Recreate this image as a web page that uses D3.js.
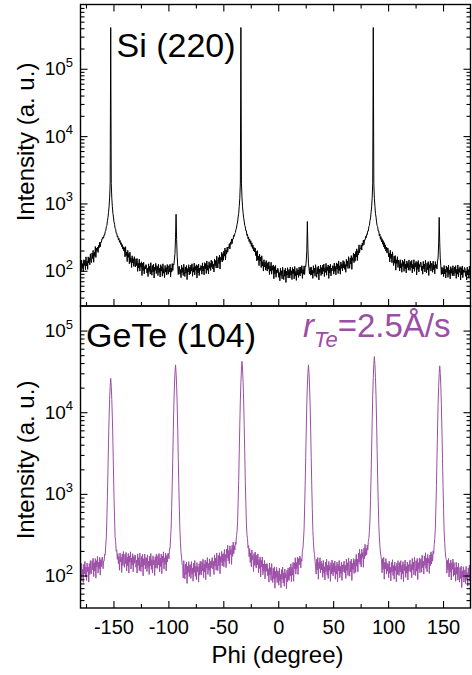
<!DOCTYPE html>
<html>
<head>
<meta charset="utf-8">
<script src="https://cdn.jsdelivr.net/npm/d3@7"></script>
<style>
  html, body { margin: 0; padding: 0; background: #fff; }
  svg { display: block; font-family: "Liberation Sans", Arial, Helvetica, sans-serif; }
</style>
</head>
<body>
<svg id="chart" width="472" height="675"></svg>
<script>
// Phi scans sampled every 0.5 degree from -180 to 175 degrees
const phiStart = -180;
const phiStep = 0.5;

// Si (220) phi scan intensity (a. u.)
const siIntensity = [
  130,98,144,109,128,96,146,120,143,104,161,118,140,105,161,131,156,123,179,141,
  133,184,152,201,134,187,164,229,158,216,198,225,187,239,220,266,227,267,265,300,
  296,318,305,343,338,386,392,452,470,552,615,728,895,1210,2020,410000,1990,1195,905,712,
  628,531,490,428,412,362,361,318,329,288,304,265,283,247,262,229,245,210,227,196,
  221,161,228,167,189,137,201,158,181,127,189,134,155,112,167,131,151,116,162,125,
  114,151,120,152,98,131,110,149,99,130,113,136,85,129,101,134,90,116,106,124,
  122,93,109,82,127,98,117,89,132,103,86,120,96,126,78,113,101,129,91,119,
  114,85,125,94,109,81,123,99,116,83,127,92,107,79,120,96,112,87,124,97,
  89,119,97,125,81,110,96,128,101,125,122,150,180,310,690,290,165,118,88,116,
  116,89,104,79,121,94,111,85,125,98,82,114,92,120,74,108,96,123,87,113,
  90,122,99,127,83,112,96,130,87,116,102,123,78,119,93,126,85,110,101,120,
  118,89,131,99,116,87,132,107,128,91,140,102,121,90,136,109,130,101,144,113,
  138,106,125,96,150,118,142,110,165,131,110,157,128,171,106,158,143,188,135,180,
  143,197,165,218,146,203,178,225,189,226,221,253,211,266,246,297,253,297,296,337,
  325,358,368,412,432,492,530,630,712,905,1195,2010,410000,2000,1210,890,728,612,548,472,
  447,392,393,335,348,298,318,270,296,253,279,230,260,215,241,197,222,190,218,168,
  194,140,199,145,165,119,177,139,160,112,167,118,136,99,146,115,133,102,142,109,
  99,132,106,136,88,118,99,134,89,117,102,122,76,115,90,120,80,103,93,109,
  105,80,94,71,109,85,100,76,113,88,74,103,83,109,67,98,86,111,78,102,
  105,78,114,86,100,74,112,90,106,76,116,84,98,72,109,87,103,80,113,88,
  84,114,92,119,77,105,89,118,88,118,115,140,200,540,215,130,108,90,112,86,
  114,87,102,77,119,92,109,83,123,96,80,112,90,118,73,106,94,121,85,111,
  89,121,98,126,82,111,95,129,86,114,101,122,77,118,93,125,84,109,100,119,
  118,89,130,98,116,87,131,106,127,91,140,101,119,89,135,109,127,100,142,111,
  137,105,124,95,148,116,140,108,162,129,109,155,126,168,105,156,141,184,132,176,
  139,193,160,212,142,198,173,243,184,217,212,243,203,258,236,286,244,287,284,323,
  308,348,342,392,390,458,470,556,610,735,890,1215,2000,410000,2010,1190,910,708,630,532,
  468,452,388,392,331,352,294,322,271,299,248,281,228,262,212,243,196,224,183,217,
  217,161,184,135,202,153,177,132,191,146,120,165,130,168,102,146,128,162,112,144,
  134,100,146,110,128,95,144,116,137,98,149,107,126,93,140,112,132,102,145,113,
  101,137,111,143,93,126,107,146,98,130,114,138,87,133,105,142,96,124,113,135,
  132,101,118,89,138,107,126,96,143,111,93,130,104,137,85,123,109,140,99,129,
  128,95,139,104,122,90,137,110,124,106,140,155,250,620,260,150,118,88,113,90,
  110,82,120,90,105,78,118,95,112,80,122,88,103,76,115,92,108,84,119,93,
  84,114,92,119,77,105,89,122,81,108,95,115,73,111,87,118,79,103,94,112,
  108,83,97,73,113,87,104,79,117,91,76
];

// GeTe (104) phi scan intensity (a. u.)
const geteIntensity = [
  128,87,140,99,119,82,137,105,149,96,127,87,142,111,127,83,140,103,152,109,
  105,152,118,163,97,144,114,161,93,152,128,172,107,146,121,167,101,156,129,165,
  168,121,150,150,182,178,236,292,505,930,1950,4300,8600,14300,20800,26000,20800,14300,8600,4300,
  1960,920,510,300,262,198,206,158,186,140,171,116,189,147,167,109,183,133,197,140,
  126,182,140,192,114,168,132,186,107,174,146,195,120,164,135,185,111,171,141,179,
  175,126,155,107,184,133,165,115,188,139,112,171,127,181,99,161,134,183,120,166,
  164,112,179,126,150,103,172,132,186,119,157,107,174,136,154,100,169,123,182,129,
  122,176,135,186,111,164,129,183,105,172,145,195,120,165,137,188,114,176,146,186,
  186,160,214,212,290,378,680,1290,2800,6250,12600,21000,30500,38000,30500,21000,12600,6230,2780,1260,
  650,350,255,190,168,138,133,93,152,112,91,138,103,146,80,130,109,148,97,135,
  136,92,148,104,124,85,142,109,153,98,130,89,144,112,127,83,139,101,150,106,
  102,148,114,158,94,139,110,155,89,147,123,166,103,140,116,160,97,149,124,157,
  166,120,149,103,179,131,164,116,189,141,115,176,132,190,105,171,145,197,131,184,
  186,128,208,149,180,125,211,164,234,151,203,140,231,181,209,137,234,172,257,185,
  232,205,258,240,310,345,462,800,1470,3150,6930,14100,23300,33800,42000,33800,23300,14100,6920,3140,
  1450,780,440,320,285,218,232,170,214,145,189,128,205,157,175,112,186,133,194,135,
  124,177,135,184,108,157,122,169,96,154,127,168,102,138,113,153,91,138,112,140,
  139,99,121,83,142,102,125,87,140,103,82,123,91,128,70,112,93,126,82,114,
  113,76,123,86,103,71,118,90,127,81,108,74,120,93,106,69,116,84,124,88,
  87,127,99,139,84,126,101,145,85,142,121,165,104,144,121,168,103,161,135,173,
  168,124,160,150,200,216,273,368,670,1280,2800,6240,12640,21040,30540,38000,30530,21030,12630,6230,
  2790,1270,660,358,262,205,180,150,128,104,158,117,166,90,146,122,165,108,150,117,
  140,95,153,107,128,88,146,112,159,101,134,92,149,116,132,85,144,105,155,110,
  99,143,110,151,90,132,104,146,84,137,114,153,94,129,106,145,87,135,111,140,
  150,108,133,92,159,115,143,100,164,121,98,149,111,159,87,141,118,161,106,147,
  158,109,181,130,158,111,188,146,211,137,184,127,210,166,191,126,216,161,241,173,
  215,180,235,205,262,284,356,478,860,1630,3550,7870,16030,26590,38590,48000,38550,26550,15990,7830,
  3500,1580,810,425,305,232,194,172,156,108,161,119,167,90,145,120,161,104,144,113,
  138,94,150,106,126,86,144,110,156,100,132,90,146,114,130,84,142,103,152,108,
  100,144,111,152,90,133,105,148,84,138,115,155,95,130,107,146,88,136,112,142,
  154,110,136,94,162,117,146,102,167,123,100,152,113,162,89,144,121,164,108,151,
  161,110,177,125,150,104,173,133,190,122,162,111,181,142,162,106,179,132,195,139,
  185,150,200,185,240,285,376,672,1265,2745,6070,12360,20500,29750,37000,29730,20480,12340,6050,2720,
  1240,648,350,255,198,166,158,107,153,118,162,96,141,110,155,88,143,119,159,98,
  144,102,125,85,145,104,127,88,142,104,83,125,92,130,71,114,95,128,83,116,
  118,80,129,91,108,74,124,95,134,85,113
];

// Axis ticks
const phiMajorTicks = [-150, -100, -50, 0, 50, 100, 150];
const phiMinorTicks = [-175, -125, -75, -25, 25, 75, 125];
const decadeExponents = [2, 3, 4, 5];

const purple = "#9b4ea6";
const svg = d3.select("#chart");

const frameLeft = 80.5, frameRight = 470.5;
const x = d3.scaleLinear().domain([-180, 175]).range([frameLeft, frameRight]);

const panels = [
  { id: "si", values: siIntensity, domain: [30, 9e5], top: 4.5, bottom: 306, color: "#000",
    label: "Si (220)", labelX: 116.5, labelY: 57, topTicks: true, xLabels: false, yLabelY: 142 },
  { id: "gete", values: geteIntensity, domain: [40, 2e5], top: 306, bottom: 608, color: purple,
    label: "GeTe (104)", labelX: 86, labelY: 347, topTicks: false, xLabels: true, yLabelY: 460 }
];

function minorValues(domain) {
  const out = [];
  for (let k = 0; k <= 6; k++) {
    for (let m = 2; m <= 9; m++) {
      const v = m * Math.pow(10, k);
      if (v > domain[0] && v < domain[1]) out.push(v);
    }
  }
  return out;
}

function styleAxis(g) {
  g.select(".domain").remove();
  g.selectAll(".tick line").attr("stroke", "#000").attr("stroke-width", 1.1);
}

panels.forEach(p => {
  const y = d3.scaleLog().domain(p.domain).range([p.bottom, p.top]);
  const g = svg.append("g").attr("class", "panel-" + p.id);

  g.append("clipPath").attr("id", "clip-" + p.id)
    .append("rect")
    .attr("x", frameLeft).attr("y", p.top)
    .attr("width", frameRight - frameLeft).attr("height", p.bottom - p.top);

  const line = d3.line()
    .x((d, i) => x(phiStart + i * phiStep))
    .y(d => y(d));

  g.append("path")
    .datum(p.values)
    .attr("clip-path", "url(#clip-" + p.id + ")")
    .attr("fill", "none")
    .attr("stroke", p.color)
    .attr("stroke-width", 1)
    .attr("stroke-linejoin", "round")
    .attr("d", line);

  // y axes on both sides, ticks pointing inward
  const majors = decadeExponents.map(k => Math.pow(10, k));
  const minors = minorValues(p.domain);
  g.append("g").attr("transform", `translate(${frameLeft},0)`)
    .call(d3.axisLeft(y).tickValues(majors).tickSizeInner(-7).tickSizeOuter(0).tickFormat(""))
    .call(styleAxis);
  g.append("g").attr("transform", `translate(${frameLeft},0)`)
    .call(d3.axisLeft(y).tickValues(minors).tickSizeInner(-4).tickSizeOuter(0).tickFormat(""))
    .call(styleAxis);
  g.append("g").attr("transform", `translate(${frameRight},0)`)
    .call(d3.axisRight(y).tickValues(majors).tickSizeInner(-7).tickSizeOuter(0).tickFormat(""))
    .call(styleAxis);
  g.append("g").attr("transform", `translate(${frameRight},0)`)
    .call(d3.axisRight(y).tickValues(minors).tickSizeInner(-4).tickSizeOuter(0).tickFormat(""))
    .call(styleAxis);

  // decade labels 10^k
  decadeExponents.forEach(k => {
    const t = g.append("text")
      .attr("x", 73).attr("y", y(Math.pow(10, k)) + 6.5)
      .attr("text-anchor", "end")
      .attr("font-size", 19).attr("fill", "#000");
    t.append("tspan").text("10");
    t.append("tspan").attr("font-size", 13).attr("dy", -8.5).text(k);
  });

  // phi axes
  g.append("g").attr("transform", `translate(0,${p.bottom})`)
    .call(d3.axisBottom(x).tickValues(phiMajorTicks).tickSizeInner(-7).tickSizeOuter(0)
      .tickPadding(12).tickFormat(p.xLabels ? (d => String(d)) : ""))
    .call(styleAxis)
    .call(a => a.selectAll("text").attr("font-size", 20).attr("fill", "#000")
      .attr("font-family", "'Liberation Sans', Arial, sans-serif"));
  g.append("g").attr("transform", `translate(0,${p.bottom})`)
    .call(d3.axisBottom(x).tickValues(phiMinorTicks).tickSizeInner(-4).tickSizeOuter(0).tickFormat(""))
    .call(styleAxis);
  if (p.topTicks) {
    g.append("g").attr("transform", `translate(0,${p.top})`)
      .call(d3.axisTop(x).tickValues(phiMajorTicks).tickSizeInner(-7).tickSizeOuter(0).tickFormat(""))
      .call(styleAxis);
    g.append("g").attr("transform", `translate(0,${p.top})`)
      .call(d3.axisTop(x).tickValues(phiMinorTicks).tickSizeInner(-4).tickSizeOuter(0).tickFormat(""))
      .call(styleAxis);
  }

  // frame
  g.append("rect")
    .attr("x", frameLeft).attr("y", p.top)
    .attr("width", frameRight - frameLeft).attr("height", p.bottom - p.top)
    .attr("fill", "none").attr("stroke", "#000").attr("stroke-width", 1.4);

  // y axis title
  g.append("text")
    .attr("transform", `translate(34,${p.yLabelY}) rotate(-90)`)
    .attr("text-anchor", "middle")
    .attr("font-size", 24).attr("fill", "#000")
    .text("Intensity (a. u.)");

  // panel label
  g.append("text")
    .attr("x", p.labelX).attr("y", p.labelY)
    .attr("font-size", 34).attr("fill", "#000")
    .text(p.label);
});

// growth-rate annotation
const rate = svg.append("text")
  .attr("x", 303).attr("y", 337)
  .attr("font-size", 33).attr("fill", purple);
rate.append("tspan").attr("font-style", "italic").text("r");
rate.append("tspan").attr("font-style", "italic").attr("font-size", 22).attr("dy", 10).text("Te");
rate.append("tspan").attr("dy", -10).text("=2.5Å/s");

// phi axis title
svg.append("text")
  .attr("x", 277.5).attr("y", 663)
  .attr("text-anchor", "middle")
  .attr("font-size", 24).attr("fill", "#000")
  .text("Phi (degree)");
</script>
</body>
</html>
